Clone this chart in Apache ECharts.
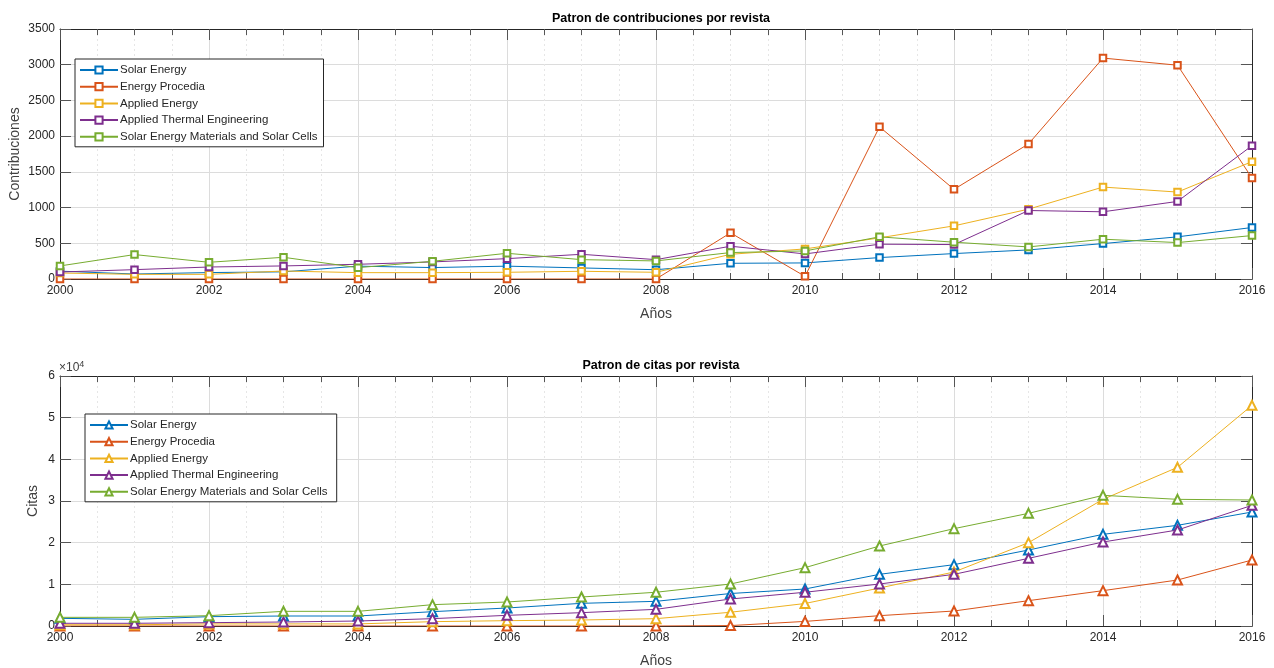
<!DOCTYPE html>
<html><head><meta charset="utf-8">
<script src="https://cdn.jsdelivr.net/npm/echarts@6/dist/echarts.min.js"></script>
<style>html,body{margin:0;padding:0;background:#fff}#c{width:1274px;height:668px}</style>
</head><body><div id="c"></div>
<script>
const years = [2000,2001,2002,2003,2004,2005,2006,2007,2008,2009,2010,2011,2012,2013,2014,2015,2016];
const seriesNames = ['Solar Energy','Energy Procedia','Applied Energy','Applied Thermal Engineering','Solar Energy Materials and Solar Cells'];

const contribSolar    = [110, 70, 90, 100, 180, 160, 180, 155, 130, 220, 225, 300, 356, 407, 496, 590, 721];
const contribProcedia = [0, 0, 0, 0, 0, 0, 0, 0, 0, 646, 37, 2130, 1255, 1891, 3093, 2993, 1413];
const contribApplied  = [84, 65, 65, 112, 89, 89, 94, 108, 94, 346, 421, 576, 744, 978, 1287, 1217, 1643];
const contribThermal  = [98, 131, 168, 183, 206, 239, 285, 346, 271, 459, 351, 487, 482, 959, 941, 1086, 1867];
const contribSEMSC    = [183, 342, 234, 304, 159, 248, 360, 271, 253, 370, 393, 590, 515, 449, 557, 510, 608];

const citSolar    = [1840, 1600, 2240, 2400, 2400, 3440, 4320, 5440, 5920, 7800, 8880, 12400, 14720, 18240, 22000, 24160, 27360];
const citProcedia = [0, 0, 0, 0, 0, 0, 0, 0, 0, 100, 1100, 2480, 3600, 6080, 8480, 11040, 15840];
const citApplied  = [300, 300, 500, 500, 500, 1040, 1280, 1440, 1760, 3300, 5400, 9120, 12960, 20000, 30400, 38080, 52960];
const citThermal  = [650, 650, 800, 960, 1200, 1760, 2560, 3200, 4000, 6480, 8100, 10080, 12400, 16240, 20160, 23040, 28960];
const citSEMSC    = [2080, 2080, 2480, 3520, 3520, 5120, 5760, 6960, 8100, 10080, 14000, 19200, 23360, 27040, 31360, 30400, 30240];

const xTicks = [2000, 2016, 2];
const contribTicks = [0, 3500, 500];
const citTicks = [0, 60000, 10000];

const colors = ['#0072BD','#D95319','#EDB120','#7E2F8E','#77AC30'];
const FONT = 'Liberation Sans, Arial, sans-serif';
const dark = '#262626';

function pairs(arr){ return years.map((y,i)=>[y, arr[i]]); }

function xAxes(gi, gap){
  const base = {type:'value', gridIndex:gi, min:xTicks[0], max:xTicks[1], interval:xTicks[2],
    axisLine:{show:true, onZero:false, lineStyle:{color:dark,width:1}},
    axisTick:{show:true, inside:true, length:11, lineStyle:{color:'#555'}},
    minorTick:{show:true, splitNumber:4, length:6, lineStyle:{color:'#555'}}};
  return [
    Object.assign({}, base, {position:'bottom',
      axisLabel:{color:dark, fontSize:12, fontFamily:FONT, margin:6, formatter:v=>String(v)},
      splitLine:{show:true, lineStyle:{color:'#dcdcdc', width:1}},
      minorSplitLine:{show:true, lineStyle:{color:'#e6e6e6', type:[2,3], width:1}},
      name:'Años', nameLocation:'middle', nameGap:gap, nameMoveOverlap:false,
      nameTextStyle:{color:'#404040', fontSize:14, fontFamily:FONT}}),
    Object.assign({}, base, {position:'top', axisLabel:{show:false}, splitLine:{show:false}})
  ];
}
function yAxes(gi, t, name, gap, fmt){
  const base = {type:'value', gridIndex:gi, min:t[0], max:t[1], interval:t[2],
    axisLine:{show:true, lineStyle:{color:dark,width:1}},
    axisTick:{show:true, inside:true, length:11, lineStyle:{color:'#555'}}};
  return [
    Object.assign({}, base, {position:'left',
      axisLabel:{color:dark, fontSize:12, fontFamily:FONT, margin:5, formatter:fmt},
      splitLine:{show:true, lineStyle:{color:'#dcdcdc', width:1}},
      name:name, nameLocation:'middle', nameGap:gap, nameMoveOverlap:false,
      nameTextStyle:{color:'#404040', fontSize:14, fontFamily:FONT}}),
    Object.assign({}, base, {position:'right', axisLabel:{show:false}, splitLine:{show:false}})
  ];
}

const contribData = [contribSolar, contribProcedia, contribApplied, contribThermal, contribSEMSC];
const citData = [citSolar, citProcedia, citApplied, citThermal, citSEMSC];

const series = [];
contribData.forEach((arr,i)=>series.push({name:seriesNames[i], type:'line', xAxisIndex:0, yAxisIndex:0,
  data:pairs(arr), symbol:'emptyRect', symbolSize:6.5, color:colors[i],
  lineStyle:{width:1, color:colors[i]}, itemStyle:{color:colors[i], borderWidth:1}, z:2+i}));
citData.forEach((arr,i)=>series.push({name:seriesNames[i]+' ', type:'line', xAxisIndex:2, yAxisIndex:2,
  data:pairs(arr), symbol:'emptyTriangle', symbolSize:9, color:colors[i],
  lineStyle:{width:1, color:colors[i]}, itemStyle:{color:colors[i], borderWidth:1}, z:2+i}));

function legend(left, top, names){
  return {left:left, top:top, orient:'vertical', data:names, itemWidth:38, itemHeight:9, itemGap:4.7,
    padding:[5,6,4,4], borderColor:dark, borderWidth:1, backgroundColor:'#fff',
    textStyle:{color:dark, fontSize:11.5, fontFamily:FONT, padding:[0,0,0,-3]}, selectedMode:false};
}

const chart = echarts.init(document.getElementById('c'), null, {renderer:'canvas'});
chart.setOption({
  animation:false,
  backgroundColor:'#fff',
  title:[
    {text:'Patron de contribuciones por revista', left:656, top:7, textAlign:'center',
     textStyle:{fontSize:12.5, fontWeight:'bold', color:'#000', fontFamily:FONT}},
    {text:'Patron de citas por revista', left:656, top:354, textAlign:'center',
     textStyle:{fontSize:12.5, fontWeight:'bold', color:'#000', fontFamily:FONT}}
  ],
  grid:[
    {left:60, right:22, top:29, height:250, containLabel:false, outerBoundsMode:'none'},
    {left:60, right:22, top:376, height:250, containLabel:false, outerBoundsMode:'none'}
  ],
  xAxis:[...xAxes(0, 28), ...xAxes(1, 28)],
  yAxis:[...yAxes(0, contribTicks, 'Contribuciones', 38, v=>String(v)),
         ...yAxes(1, citTicks, 'Citas', 20, v=>String(v/10000))],
  legend:[legend(75, 59, seriesNames), legend(85, 414, seriesNames.map(n=>n+' '))],
  graphic:[{type:'text', left:59, top:360,
    style:{text:'{a|×10}{b|4}', rich:{a:{fontSize:12, fill:'#404040', fontFamily:FONT},
      b:{fontSize:9, fill:'#404040', fontFamily:FONT, verticalAlign:'top', padding:[0,0,7,0]}}}}],
  series:series
});
</script></body></html>
